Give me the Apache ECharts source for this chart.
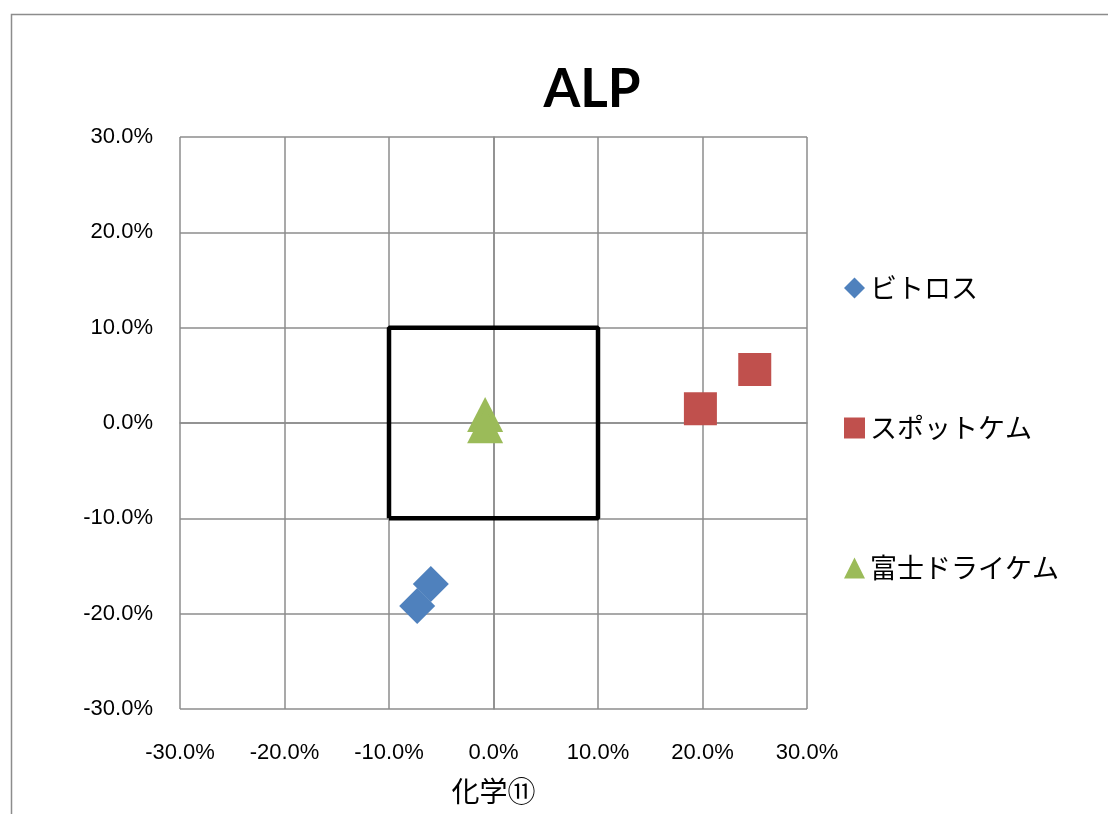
<!DOCTYPE html>
<html>
<head>
<meta charset="utf-8">
<script src="https://cdn.jsdelivr.net/npm/echarts@6/dist/echarts.min.js"></script>
<style>
html,body{margin:0;padding:0;background:#fff;}
#chart{width:1108px;height:814px;}
</style>
</head>
<body>
<div id="chart"></div>
<script>
// Data (values in percent)
const seriesNames = ['ビトロス', 'スポットケム', '富士ドライケム'];
const vitrosData = [[-6.0, -16.9], [-7.3, -19.2]];
const spotchemData = [[19.8, 1.5], [25.0, 5.6]];
const fujiData = [[-0.8, 0.9], [-0.8, -0.3]];
const boxCorners = [[-10, -10], [10, -10], [10, 10], [-10, 10], [-10, -10]];
const axisTicks = [-30, -20, -10, 0, 10, 20, 30];
const titleText = 'ALP';
const xAxisName = '化学⑪';

const jp = '"Noto Sans CJK JP", "Noto Sans", sans-serif';
const num = '"Liberation Sans", Arial, sans-serif';
const fmt = v => v.toFixed(1) + '%';

const chart = echarts.init(document.getElementById('chart'));
chart.setOption({
  animation: false,
  backgroundColor: '#fff',
  graphic: [{
    type: 'rect', left: 9, top: 12, silent: true,
    shape: { x: 0, y: 0, width: 1300, height: 1000 },
    style: { fill: 'none', stroke: '#8c8c8c', lineWidth: 1.5 }
  }],
  title: {
    text: titleText,
    left: 587, top: 58, textAlign: 'center',
    textStyle: { fontFamily: 'Lato, "Liberation Sans", sans-serif', fontWeight: 'bold', fontSize: 53, color: '#000' }
  },
  grid: { left: 180, right: 301, top: 137, bottom: 105, containLabel: false },
  legend: {
    data: seriesNames,
    orient: 'vertical',
    left: 839, top: 269,
    itemWidth: 21, itemHeight: 21, itemGap: 112,
    textStyle: { fontFamily: jp, fontSize: 27, color: '#000', lineHeight: 28, padding: [0, 0, 0, 0] }
  },
  xAxis: {
    type: 'value', min: axisTicks[0], max: axisTicks[axisTicks.length - 1], interval: 10,
    name: xAxisName, nameLocation: 'middle', nameGap: 68,
    nameTextStyle: { fontFamily: jp, fontSize: 28, color: '#000' },
    axisLine: { show: true, lineStyle: { color: '#8c8c8c', width: 1.5 } },
    axisTick: { show: false },
    splitLine: { show: true, lineStyle: { color: '#8c8c8c', width: 1.5 } },
    axisLabel: { formatter: fmt, margin: 33, fontFamily: num, fontSize: 22, color: '#000' }
  },
  yAxis: {
    type: 'value', min: axisTicks[0], max: axisTicks[axisTicks.length - 1], interval: 10,
    axisLine: { show: true, lineStyle: { color: '#8c8c8c', width: 1.5 } },
    axisTick: { show: false },
    splitLine: { show: true, lineStyle: { color: '#8c8c8c', width: 1.5 } },
    axisLabel: { formatter: fmt, margin: 27, fontFamily: num, fontSize: 22, color: '#000' }
  },
  series: [
    {
      name: 'box', type: 'line', data: boxCorners, symbol: 'none', silent: true, z: 1,
      lineStyle: { color: '#000', width: 4.5 }
    },
    {
      name: seriesNames[0], type: 'scatter', data: vitrosData, symbol: 'diamond', symbolSize: 36, z: 3,
      itemStyle: { color: '#4F81BD', opacity: 1 }
    },
    {
      name: seriesNames[1], type: 'scatter', data: spotchemData, symbol: 'rect', symbolSize: 33, z: 3,
      itemStyle: { color: '#C0504D', opacity: 1 }
    },
    {
      name: seriesNames[2], type: 'scatter', data: fujiData, symbol: 'triangle', symbolSize: [36, 35], z: 3,
      itemStyle: { color: '#9BBB59', opacity: 1 }
    }
  ]
});
</script>
</body>
</html>
